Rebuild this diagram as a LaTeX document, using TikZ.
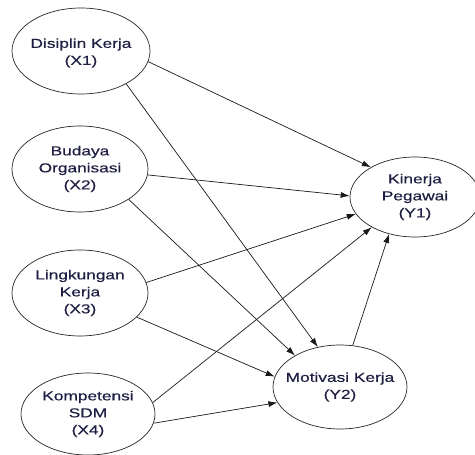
\documentclass[tikz,border=0pt]{standalone}
\usepackage{fontspec}
\setmainfont{Liberation Sans}[FakeStretch=1.33,FakeBold=0.4]
\usetikzlibrary{arrows.meta,shapes.geometric}
\definecolor{txt}{RGB}{30,30,66}
\begin{document}
\begin{tikzpicture}[x=1pt,y=-1pt,
  var/.style={draw=black!85, line width=0.7pt, ellipse, inner sep=0pt},
  lab/.style={text=txt, align=center, font=\fontsize{13}{17}\selectfont},
  arr/.style={draw=black!90, line width=0.7pt, -{Latex[length=9pt,width=6pt]}}]
\useasboundingbox (0,0) rectangle (475,455);
\node[var, minimum width=138pt, minimum height=86pt, label={[lab, yshift=-2pt]center:{Disiplin Kerja\\(X1)}}] (X1) at (81,51) {};
\node[var, minimum width=136pt, minimum height=86pt, label={[lab]center:{Budaya\\Organisasi\\(X2)}}] (X2) at (80,169) {};
\node[var, minimum width=136pt, minimum height=86pt, label={[lab]center:{Lingkungan\\Kerja\\(X3)}}] (X3) at (80,293) {};
\node[var, minimum width=134pt, minimum height=82pt, label={[lab]center:{Kompetensi\\SDM\\(X4)}}] (X4) at (88,414) {};
\node[var, minimum width=130pt, minimum height=80pt, label={[lab]center:{Kinerja\\Pegawai\\(Y1)}}] (Y1) at (415,197) {};
\node[var, minimum width=134pt, minimum height=84pt, label={[lab]center:{Motivasi Kerja\\(Y2)}}] (Y2) at (340,387) {};
\draw[arr] (X1.-9) -- (Y1.146);
\draw[arr] (X1.-36) -- (Y2.119);
\draw[arr] (X2.-5) -- (Y1.179);
\draw[arr] (X2.-32) -- (Y2.145);
\draw[arr] (X3.9) -- (Y1.196);
\draw[arr] (X3.-23) -- (Y2.171);
\draw[arr] (X4.10) -- (Y1.215);
\draw[arr] (X4.-8) -- (Y2.194);
\draw[arr] (Y2.73) -- (Y1.235);
\end{tikzpicture}
\end{document}
